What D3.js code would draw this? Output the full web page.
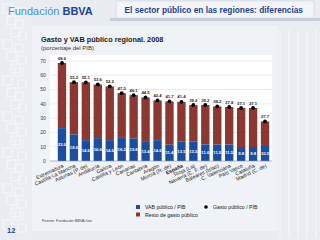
<!DOCTYPE html>
<html>
<head>
<meta charset="utf-8">
<script src="https://cdn.jsdelivr.net/npm/d3@7"></script>
<style>
body { margin: 0; background: #e9edf2; }
svg { display: block; font-family: "Liberation Sans", Arial, sans-serif; }
</style>
</head>
<body>
<svg width="320" height="240"></svg>
<script>
var regions = ["Extremadura", "Castilla-La Mancha", "Asturias (P. de)", "Andalucía", "Galicia",
    "Castilla y León", "Canarias", "Cantabria", "Aragón", "Murcia (R. de)", "España",
    "Rioja (La)", "Navarra (C. F. de)", "Baleares (Islas)", "C. Valenciana", "País Vasco",
    "Cataluña", "Madrid (C. de)"];
var gastoPib = [68.6, 55.2, 55.1, 53.6, 52.2, 47.5, 46.1, 44.5, 42.4, 41.7, 41.4,
    39.2, 39.2, 38.2, 37.8, 37.1, 37.1, 27.7];
var vabPib = [23.0, 18.6, 14.6, 16.0, 14.6, 16.2, 15.8, 13.4, 14.6, 11.4, 13.5,
    13.5, 11.6, 11.5, 11.5, 9.8, 9.8, 10.5];
var yTicks = [0, 10, 20, 30, 40, 50, 60, 70];

var svg = d3.select("svg");
var blue = "#1c4d9e", red = "#8b3832", navy = "#1f3f8f";

// page background decoration
svg.append("rect").attr("width", 320).attr("height", 240).attr("fill", "#e9edf2");
var deco = svg.append("g").attr("fill", "none").attr("stroke", "#f5f7fa").attr("stroke-width", 1);
d3.range(4, 230, 12).forEach(function(y, i) {
    deco.append("rect").attr("x", 3 + (i % 3) * 4).attr("y", y).attr("width", 9).attr("height", 9);
    deco.append("rect").attr("x", 18 - (i % 2) * 3).attr("y", y + 4).attr("width", 8).attr("height", 8);
});
d3.range(280, 318, 9).forEach(function(x) {
    deco.append("line").attr("x1", x).attr("x2", x).attr("y1", 30).attr("y2", 238);
});
svg.append("rect").attr("x", 32).attr("y", 26).attr("width", 246).attr("height", 205)
    .attr("fill", "#eff2f6");

// header
var logo = svg.append("text").attr("x", 8).attr("y", 15).style("font-size", "11px");
logo.append("tspan").attr("fill", "#4f90d0").text("Fundación ");
logo.append("tspan").attr("fill", navy).style("font-weight", "bold").text("BBVA");
svg.append("rect").attr("x", 116).attr("y", 1).attr("width", 198).attr("height", 17)
    .attr("fill", "#f3f5f8").attr("stroke", "#c9d0da").attr("stroke-width", 0.6);
svg.append("rect").attr("x", 110).attr("y", 18).attr("width", 210).attr("height", 3)
    .attr("fill", "#c7cfdb");
svg.append("text").attr("x", 303).attr("y", 13).attr("text-anchor", "end")
    .attr("fill", navy).style("font-size", "8.3px").style("font-weight", "bold")
    .text("El sector público en las regiones: diferencias");

// chart titles
svg.append("text").attr("x", 41).attr("y", 42).attr("fill", "#222")
    .style("font-size", "7.3px").style("font-weight", "bold")
    .text("Gasto y VAB público regional. 2008");
svg.append("text").attr("x", 41).attr("y", 50).attr("fill", "#333")
    .style("font-size", "6px").text("(porcentaje del PIB)");

var x = d3.scaleBand().domain(regions).range([56, 271]).paddingInner(0.3).paddingOuter(0.15);
var y = d3.scaleLinear().domain([0, 70]).range([161, 61]);

svg.append("rect").attr("x", 50).attr("y", 55).attr("width", 222).attr("height", 106)
    .attr("fill", "#ffffff");

var grid = svg.append("g");
grid.selectAll("line").data(yTicks).enter().append("line")
    .attr("x1", 50).attr("x2", 272)
    .attr("y1", function(d) { return y(d); }).attr("y2", function(d) { return y(d); })
    .attr("stroke", "#dcdfe3").attr("stroke-width", 0.6);

svg.append("g").selectAll("text").data(yTicks).enter().append("text")
    .attr("x", 46).attr("y", function(d) { return y(d); }).attr("dy", "0.35em")
    .attr("text-anchor", "end").attr("fill", "#444").style("font-size", "5.2px")
    .text(function(d) { return d; });

var bars = svg.append("g").selectAll("g").data(regions).enter().append("g");
bars.append("rect")
    .attr("x", function(d) { return x(d); })
    .attr("width", x.bandwidth())
    .attr("y", function(d, i) { return y(gastoPib[i]); })
    .attr("height", function(d, i) { return y(vabPib[i]) - y(gastoPib[i]); })
    .attr("fill", red);
bars.append("rect")
    .attr("x", function(d) { return x(d); })
    .attr("width", x.bandwidth())
    .attr("y", function(d, i) { return y(vabPib[i]); })
    .attr("height", function(d, i) { return y(0) - y(vabPib[i]); })
    .attr("fill", blue);
bars.append("text")
    .attr("x", function(d) { return x(d) + x.bandwidth() / 2; })
    .attr("y", function(d, i) { return y(vabPib[i] / 2); })
    .attr("dy", "0.35em").attr("text-anchor", "middle").attr("fill", "#fff")
    .style("font-size", "4.2px").style("font-weight", "bold")
    .text(function(d, i) { return vabPib[i].toFixed(1); });
bars.append("circle")
    .attr("cx", function(d) { return x(d) + x.bandwidth() / 2; })
    .attr("cy", function(d, i) { return y(gastoPib[i]); })
    .attr("r", 1.9).attr("fill", "#000");
bars.append("text")
    .attr("x", function(d) { return x(d) + x.bandwidth() / 2; })
    .attr("y", function(d, i) { return y(gastoPib[i]) - 3.5; })
    .attr("text-anchor", "middle").attr("fill", "#222")
    .style("font-size", "4.2px").style("font-weight", "bold")
    .text(function(d, i) { return gastoPib[i].toFixed(1); });

svg.append("line").attr("x1", 50).attr("x2", 272).attr("y1", y(0)).attr("y2", y(0))
    .attr("stroke", "#999").attr("stroke-width", 0.6);

// category labels
svg.append("g").selectAll("text").data(regions).enter().append("text")
    .attr("transform", function(d) {
        return "translate(" + (x(d) + x.bandwidth() / 2 + 2) + "," + 167 + ") rotate(-25)";
    })
    .attr("text-anchor", "end").attr("fill", "#222")
    .style("font-size", "5.2px")
    .style("font-weight", function(d) { return d === "España" ? "bold" : "normal"; })
    .text(function(d) { return d; });

// legend
var legend = svg.append("g");
legend.append("rect").attr("x", 136).attr("y", 205).attr("width", 4).attr("height", 4).attr("fill", blue);
legend.append("text").attr("x", 145).attr("y", 209).attr("fill", "#222").style("font-size", "5.2px")
    .text("VAB público / PIB");
legend.append("rect").attr("x", 136).attr("y", 212.5).attr("width", 4).attr("height", 4).attr("fill", red);
legend.append("text").attr("x", 145).attr("y", 216.5).attr("fill", "#222").style("font-size", "5.2px")
    .text("Resto de gasto público");
legend.append("circle").attr("cx", 206).attr("cy", 207).attr("r", 1.8).attr("fill", "#000");
legend.append("text").attr("x", 213).attr("y", 209).attr("fill", "#222").style("font-size", "5.2px")
    .text("Gasto público / PIB");

// footer
svg.append("text").attr("x", 42).attr("y", 222).attr("fill", "#444").style("font-size", "3.8px")
    .text("Fuente: Fundación BBVA-Ivie");
svg.append("text").attr("x", 7).attr("y", 233).attr("fill", navy)
    .style("font-size", "7.5px").style("font-weight", "bold").text("12");
</script>
</body>
</html>
